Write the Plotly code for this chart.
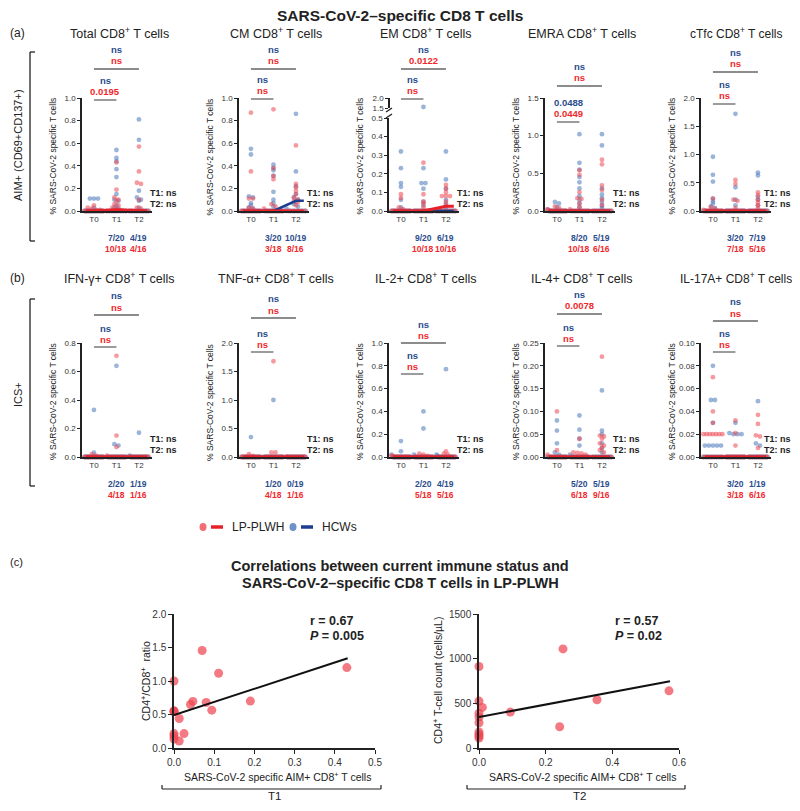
import numpy as np
import plotly.graph_objects as go

# the page body keeps an 8px margin, so the figure is 16px smaller and shifted
PAGE_W, PAGE_H = 800, 811
OFF = 8
W, H = PAGE_W - 2 * OFF, PAGE_H - 2 * OFF
FONT = "Liberation Sans, Arial, sans-serif"
RED_PT = "rgba(236,72,82,0.55)"
BLUE_PT = "rgba(72,118,186,0.55)"
RED_LN = "#E8202A"
BLUE_LN = "#1D3E8E"
RED_TX = "#F0282D"
BLUE_TX = "#2B4C8C"

timepoints = ["T0", "T1", "T2"]
n_hcw = [20, 20, 19]
n_plwh = [18, 18, 16]

# ---- (a) AIM+ : non-zero values per timepoint (the rest of each group is 0) ----
total_hcw = [[0.11, 0.11, 0.11, 0.03],
             [0.54, 0.47, 0.44, 0.37, 0.30, 0.15, 0.10, 0.09, 0.05, 0.03, 0.02],
             [0.81, 0.63, 0.18, 0.12, 0.10, 0.09, 0.03]]
total_plwh = [[0.05, 0.03, 0.02, 0.01, 0.01],
              [0.43, 0.19, 0.12, 0.10, 0.09, 0.06, 0.05, 0.03, 0.02, 0.01],
              [0.57, 0.35, 0.25, 0.24, 0.10, 0.03, 0.02]]
total_med = [[0, 0, 0], [0, 0.01, 0]]

cm_hcw = [[0.55, 0.50, 0.13, 0.12, 0.07, 0.05, 0.03, 0.02],
          [0.41, 0.38, 0.36, 0.31, 0.17, 0.10, 0.07, 0.04],
          [0.86, 0.35, 0.22, 0.15, 0.12, 0.10, 0.08, 0.06, 0.04, 0.02]]
cm_plwh = [[0.87, 0.35, 0.11, 0.11, 0.03, 0.02],
           [0.90, 0.38, 0.31, 0.28, 0.06, 0.04, 0.02],
           [0.58, 0.24, 0.21, 0.18, 0.15, 0.12, 0.10, 0.09, 0.08, 0.05]]
cm_med = [[0, 0, 0.09], [0, 0, 0]]

em_hcw = [[0.32, 0.23, 0.15, 0.13, 0.06, 0.02],
          [1.55, 0.23, 0.15, 0.15, 0.12, 0.05, 0.03],
          [0.32, 0.17, 0.12, 0.06, 0.04, 0.02]]
em_plwh = [[0.09, 0.07, 0.02, 0.01],
           [0.26, 0.09, 0.05, 0.04, 0.02],
           [0.14, 0.12, 0.10, 0.08, 0.08, 0.08, 0.05, 0.03]]
em_med = [[0, 0, 0], [0, 0, 0.025]]

emra_hcw = [[0.12, 0.10, 0.05, 0.02],
            [1.02, 0.64, 0.55, 0.45, 0.38, 0.30, 0.20, 0.15, 0.10, 0.05],
            [1.02, 0.87, 0.30, 0.22, 0.17, 0.12, 0.07, 0.04]]
emra_plwh = [[0.06, 0.04, 0.02, 0.01],
             [0.54, 0.48, 0.25, 0.17, 0.16, 0.10, 0.05, 0.02],
             [0.68, 0.62, 0.34, 0.28, 0.15, 0.08]]
emra_med = [[0, 0, 0], [0, 0.01, 0]]

ctfc_hcw = [[0.96, 0.64, 0.52, 0.22, 0.17, 0.13, 0.08, 0.05],
            [1.72, 0.42, 0.20, 0.10],
            [0.68, 0.63, 0.25, 0.20, 0.10]]
ctfc_plwh = [[0.22, 0.07, 0.04, 0.02],
             [0.55, 0.48, 0.20, 0.18, 0.05],
             [0.33, 0.28, 0.20, 0.15, 0.10, 0.05]]
ctfc_med = [[0, 0, 0], [0, 0, 0]]

# ---- (b) ICS+ ----
ifn_hcw = [[0.33, 0.03], [0.64, 0.09, 0.08], [0.17, 0.01]]
ifn_plwh = [[0.02, 0.01], [0.71, 0.15, 0.07, 0.01], [0.005]]
tnf_hcw = [[0.35], [1.0], []]
tnf_plwh = [[0.05, 0.02], [1.68, 0.08, 0.08], [0.01]]
il2_hcw = [[0.14, 0.05, 0.02], [0.40, 0.25, 0.02], [0.77, 0.02, 0.01]]
il2_plwh = [[0.01, 0.01], [0.03, 0.02, 0.01], [0.05, 0.03, 0.02]]
il4_hcw = [[0.080, 0.058, 0.030, 0.010, 0.005],
           [0.091, 0.060, 0.040, 0.025, 0.005],
           [0.146, 0.058, 0.050, 0.030, 0.020, 0.010]]
il4_plwh = [[0.100, 0.015, 0.005],
            [0.040, 0.010, 0.009, 0.008, 0.005],
            [0.220, 0.047, 0.045, 0.040, 0.030, 0.025, 0.020, 0.015, 0.010]]
il17_hcw = [[0.08, 0.05, 0.05, 0.03, 0.01, 0.01, 0.01, 0.01, 0.01],
            [0.03, 0.02, 0.02, 0.02, 0.021],
            [0.049, 0.012, 0.01]]
il17_plwh = [[0.07, 0.04, 0.03, 0.02, 0.02, 0.02, 0.02, 0.02, 0.02, 0.02],
             [0.032, 0.021, 0.01],
             [0.037, 0.029, 0.019, 0.018, 0.008]]
zero_med = [[0, 0, 0], [0, 0, 0]]

titles_a = ["Total CD8<sup>+</sup> T cells", "CM CD8<sup>+</sup> T cells", "EM CD8<sup>+</sup> T cells",
            "EMRA CD8<sup>+</sup> T cells", "cTfc CD8<sup>+</sup> T cells"]
titles_b = ["IFN-γ+ CD8<sup>+</sup> T cells", "TNF-α+ CD8<sup>+</sup> T cells", "IL-2+ CD8<sup>+</sup> T cells",
            "IL-4+ CD8<sup>+</sup> T cells", "IL-17A+ CD8<sup>+</sup> T cells"]

# p labels: (big T0-T2 blue, red), (small T0-T1 blue, red)
p_a = [(("ns", "ns"), ("ns", "0.0195")), (("ns", "ns"), ("ns", "ns")), (("ns", "0.0122"), ("ns", "ns")),
       (("ns", "ns"), ("0.0488", "0.0449")), (("ns", "ns"), ("ns", "ns"))]
p_b = [(("ns", "ns"), ("ns", "ns")), (("ns", "ns"), ("ns", "ns")), (("ns", "ns"), ("ns", "ns")),
       (("ns", "0.0078"), ("ns", "ns")), (("ns", "ns"), ("ns", "ns"))]

cnt_hcw_a = [("7/20", "4/19"), ("3/20", "10/19"), ("9/20", "6/19"), ("8/20", "5/19"), ("3/20", "7/19")]
cnt_plwh_a = [("10/18", "4/16"), ("3/18", "8/16"), ("10/18", "10/16"), ("10/18", "6/16"), ("7/18", "5/16")]
cnt_hcw_b = [("2/20", "1/19"), ("1/20", "0/19"), ("2/20", "4/19"), ("5/20", "5/19"), ("3/20", "1/19")]
cnt_plwh_b = [("4/18", "1/16"), ("4/18", "1/16"), ("5/18", "5/16"), ("6/18", "9/16"), ("3/18", "6/16")]

# ---- (c) correlations ----
t1_x = [0, 0, 0, 0, 0, 0, 0, 0.013, 0.013, 0.025, 0.041, 0.047, 0.07, 0.08, 0.094, 0.111, 0.19, 0.43]
t1_y = [1.0, 0.555, 0.55, 0.215, 0.18, 0.135, 0.54, 0.44, 0.105, 0.215, 0.65, 0.695, 1.455, 0.68, 0.565,
        1.115, 0.70, 1.2]
t1_fit_x = [0, 0.432]
t1_fit_y = [0.49, 1.34]
t2_x = [0, 0, 0, 0, 0, 0, 0, 0, 0, 0.01, 0.094, 0.242, 0.252, 0.354, 0.57]
t2_y = [912, 525, 390, 346, 283, 179, 153, 134, 112, 454, 402, 238, 1109, 540, 640]
t2_fit_x = [0, 0.573]
t2_fit_y = [346, 748]


def fx(x):
    return (x - OFF) / W


def fy(y):
    return 1 - (y - OFF) / H


fig = go.Figure()
layout = {}
ann = []
shapes = []
ax_i = [0]


def new_axes():
    ax_i[0] += 1
    i = ax_i[0]
    if i == 1:
        return "xaxis", "yaxis", "x", "y"
    return f"xaxis{i}", f"yaxis{i}", f"x{i}", f"y{i}"


def text(x, y, s, size=9, color="#222", xanchor="center", angle=0):
    ann.append(dict(x=fx(x), y=fy(y), xref="paper", yref="paper", text=s, showarrow=False,
                    font=dict(family=FONT, size=size, color=color), xanchor=xanchor, yanchor="middle",
                    textangle=angle))


def line(x0, y0, x1, y1, color="#222", width=1.2):
    shapes.append(dict(type="line", xref="paper", yref="paper", x0=fx(x0), y0=fy(y0), x1=fx(x1), y1=fy(y1),
                       line=dict(color=color, width=width)))


def swarm(vals, tol):
    vals = sorted(vals, reverse=True)
    xs, ys = [], []
    i = 0
    while i < len(vals):
        j = i
        while j + 1 < len(vals) and vals[i] - vals[j + 1] <= tol:
            j += 1
        k = j - i + 1
        w = min(0.42, 0.09 * (k - 1))
        offs = np.linspace(-w, w, k) if k > 1 else [0.0]
        xs += list(offs)
        ys += vals[i:j + 1]
        i = j + 1
    return xs, ys


XR = [-0.53, 2.58]
PW = 70


def cat_px(left, c):
    return left + (c - XR[0]) / (XR[1] - XR[0]) * PW


def axis_style(tickfmt, rng, dtick=None, tickvals=None):
    d = dict(range=rng, showline=True, linecolor="#222", linewidth=1.5, ticks="outside", ticklen=3,
             tickwidth=1.2, tickcolor="#222", tickfont=dict(family=FONT, size=8, color="#333"),
             showgrid=False, zeroline=False, tickformat=tickfmt, fixedrange=True)
    if tickvals is not None:
        d.update(tickmode="array", tickvals=tickvals)
    else:
        d.update(tickmode="linear", tick0=0, dtick=dtick)
    return d


def add_panel(left, top, bottom, title, hcw, plwh, med, ytop, dtick, fmt, pl, big_y, small_y,
              cnt_h, cnt_p, broken=False, last=False):
    xk, yk, xr, yr = new_axes()
    layout[xk] = dict(domain=[fx(left), fx(left + PW)], range=XR, anchor=yr, showline=True, linecolor="#222",
                      linewidth=1.5, ticks="", tickmode="array", tickvals=[0, 1, 2], ticktext=timepoints,
                      tickfont=dict(family=FONT, size=8, color="#333"), showgrid=False, zeroline=False,
                      fixedrange=True)
    low_top = top + 20 if broken else top
    rng = [0, 0.5] if broken else [0, ytop]
    layout[yk] = dict(domain=[fy(bottom), fy(low_top)], anchor=xr, **axis_style(fmt, rng, dtick=dtick))
    up = None
    if broken:
        xk2, yk2, xr2, yr2 = new_axes()
        layout[xk2] = dict(domain=[fx(left), fx(left + PW)], range=XR, visible=False, anchor=yr2,
                           fixedrange=True)
        layout[yk2] = dict(domain=[fy(top + 10), fy(top)], anchor="free", position=fx(left),
                           **axis_style(".1f", [1.5, 2.0], tickvals=[1.5, 2.0]))
        up = (xr2, yr2)
        # break marks
        for yb in (top + 12, top + 18):
            line(left - 3, yb + 2, left + 3, yb - 2, width=1.3)
    tol = (0.5 if broken else ytop) * 0.02
    for vals_all, n_list, col in ((hcw, n_hcw, BLUE_PT), (plwh, n_plwh, RED_PT)):
        xs, ys, xs2, ys2 = [], [], [], []
        for g in range(3):
            full = list(vals_all[g]) + [0.0] * max(0, n_list[g] - len(vals_all[g]))
            lo = [v for v in full if not (broken and v > 0.5)]
            hi = [v for v in full if broken and v > 0.5]
            ox, oy = swarm(lo, tol)
            xs += [g + o for o in ox]
            ys += oy
            if hi:
                ox, oy = swarm(hi, tol)
                xs2 += [g + o for o in ox]
                ys2 += oy
        fig.add_trace(go.Scatter(x=xs, y=ys, xaxis=xr, yaxis=yr, mode="markers", cliponaxis=False,
                                 marker=dict(size=4.8, color=col, line=dict(width=0)), showlegend=False,
                                 hoverinfo="skip"))
        if xs2:
            fig.add_trace(go.Scatter(x=xs2, y=ys2, xaxis=up[0], yaxis=up[1], mode="markers", cliponaxis=False,
                                     marker=dict(size=4.8, color=col, line=dict(width=0)), showlegend=False,
                                     hoverinfo="skip"))
    for m, col, wd in ((med[0], BLUE_LN, 2.5), (med[1], RED_LN, 3)):
        fig.add_trace(go.Scatter(x=[-0.35, 0, 1, 2, 2.35], y=[m[0], m[0], m[1], m[2], m[2]], xaxis=xr, yaxis=yr,
                                 mode="lines", line=dict(color=col, width=wd), cliponaxis=False,
                                 showlegend=False, hoverinfo="skip"))
    # titles
    if last:
        text(left + 35, top - 65, title, size=12)
    else:
        text(left + 37, top - 65, title, size=12.5)
    text(left - 29, (top + bottom) / 2 + 2, "% SARS-CoV-2 specific T cells", size=8.5, angle=-90)
    # significance brackets
    p0, p1, p2 = cat_px(left, 0), cat_px(left, 1), cat_px(left, 2)
    for (b_lab, r_lab), yb, xe in ((pl[0], big_y, p2), (pl[1], small_y, p1)):
        line(p0, yb, xe, yb, color="#666", width=1.3)
        text((p0 + xe) / 2, yb - 19, "<b>%s</b>" % b_lab, size=9.5, color=BLUE_TX)
        text((p0 + xe) / 2, yb - 8, "<b>%s</b>" % r_lab, size=9.5, color=RED_TX)
    tx = left + 61 if last else left + 66
    text(tx, bottom - 18, "<b>T1: ns</b>", size=9, xanchor="left")
    text(tx, bottom - 7, "<b>T2: ns</b>", size=9, xanchor="left")
    for k, c in enumerate((1, 2)):
        text(cat_px(left, c), bottom + 27, "<b>%s</b>" % cnt_h[k], size=8.5, color=BLUE_TX)
        text(cat_px(left, c), bottom + 38, "<b>%s</b>" % cnt_p[k], size=8.5, color=RED_TX)


lefts = [82, 239, 389, 545, 701]

panels_a = [(total_hcw, total_plwh, total_med, 1.0, 0.2, ".1f"),
            (cm_hcw, cm_plwh, cm_med, 1.0, 0.2, ".1f"),
            (em_hcw, em_plwh, em_med, 2.0, 0.1, ".1f"),
            (emra_hcw, emra_plwh, emra_med, 1.5, 0.5, ".1f"),
            (ctfc_hcw, ctfc_plwh, ctfc_med, 2.0, 0.5, ".1f")]
brk_a = [(69, 100), (69, 99), (69, 99), (86, 122), (72, 104)]
for k, (h, p, m, yt, dt, fm) in enumerate(panels_a):
    add_panel(lefts[k], 98, 211, titles_a[k], h, p, m, yt, dt, fm, p_a[k], brk_a[k][0], brk_a[k][1],
              cnt_hcw_a[k], cnt_plwh_a[k], broken=(k == 2), last=(k == 4))

panels_b = [(ifn_hcw, ifn_plwh, 0.8, 0.2, ".1f"),
            (tnf_hcw, tnf_plwh, 2.0, 0.5, ".1f"),
            (il2_hcw, il2_plwh, 1.0, 0.2, ".1f"),
            (il4_hcw, il4_plwh, 0.25, 0.05, ".2f"),
            (il17_hcw, il17_plwh, 0.10, 0.02, ".2f")]
brk_b = [(315, 347), (318, 352), (343, 374), (314, 346), (321, 352)]
for k, (h, p, yt, dt, fm) in enumerate(panels_b):
    add_panel(lefts[k], 343, 457, titles_b[k], h, p, zero_med, yt, dt, fm, p_b[k], brk_b[k][0], brk_b[k][1],
              cnt_hcw_b[k], cnt_plwh_b[k], last=(k == 4))

# row labels and brackets
text(400, 16, "<b>SARS-CoV-2–specific CD8 T cells</b>", size=15.5)
text(8, 33, "(a)", size=12, xanchor="left")
text(8, 278, "(b)", size=12, xanchor="left")
text(8, 562, "(c)", size=11, xanchor="left")
for (y0, y1, lab, yc) in ((52, 241, "AIM+ (CD69+CD137+)", 145), (299, 486, "ICS+", 395)):
    line(30, y0, 30, y1, color="#222", width=1.3)
    line(30, y0, 35, y0, color="#222", width=1.3)
    line(30, y1, 35, y1, color="#222", width=1.3)
    text(18, yc, lab, size=11, angle=-90)

# legend
for cx, pt, ln, lab in ((203, RED_PT, RED_LN, "LP-PLWH"), (293, BLUE_PT, BLUE_LN, "HCWs")):
    shapes.append(dict(type="circle", xref="paper", yref="paper", x0=fx(cx - 3.5), x1=fx(cx + 3.5),
                       y0=fy(527 + 4), y1=fy(527 - 4), fillcolor=pt.replace("0.55", "0.8"), line=dict(width=0)))
    line(cx + 8, 527, cx + 20, 527, color=ln, width=3.5)
    text(cx + 27, 527, lab, size=12, xanchor="left")

# (c) title
text(400, 566, "<b>Correlations between current immune status and</b>", size=14.5)
text(400, 583, "<b>SARS-CoV-2–specific CD8 T cells in LP-PLWH</b>", size=14.5)

CORR_PT = "rgba(238,70,82,0.72)"
for (l, r, xrng, xdt, yrng, ydt, yfmt, xs, ys, fxs, fys, ytitle, rtxt, ptxt, tlab, tx) in (
        (174, 375, [0, 0.5], 0.1, [0, 2.0], 0.5, ".1f", t1_x, t1_y, t1_fit_x, t1_fit_y,
         "CD4<sup>+</sup>/CD8<sup>+</sup>  ratio", "r = 0.67", "<i>P</i> = 0.005", "T1", 145),
        (479, 679, [0, 0.6], 0.2, [0, 1500], 500, "d", t2_x, t2_y, t2_fit_x, t2_fit_y,
         "CD4<sup>+</sup> T-cell count (cells/µL)", "r = 0.57", "<i>P</i> = 0.02", "T2", 437)):
    xk, yk, xr, yr = new_axes()
    xs_style = axis_style(".1f", xrng, dtick=xdt)
    xs_style.update(ticklen=4, tickfont=dict(family=FONT, size=10, color="#333"))
    ys_style = axis_style(yfmt, yrng, dtick=ydt)
    ys_style.update(ticklen=4, tickfont=dict(family=FONT, size=10, color="#333"))
    layout[xk] = dict(domain=[fx(l), fx(r)], anchor=yr, **xs_style)
    layout[yk] = dict(domain=[fy(748), fy(614)], anchor=xr, **ys_style)
    fig.add_trace(go.Scatter(x=xs, y=ys, xaxis=xr, yaxis=yr, mode="markers", cliponaxis=False,
                             marker=dict(size=9, color=CORR_PT, line=dict(width=0)), showlegend=False,
                             hoverinfo="skip"))
    fig.add_trace(go.Scatter(x=fxs, y=fys, xaxis=xr, yaxis=yr, mode="lines", cliponaxis=False,
                             line=dict(color="#111", width=2), showlegend=False, hoverinfo="skip"))
    text(tx, 681, ytitle, size=10.5, angle=-90)
    text((l + r) / 2 + 3, 776, "SARS-CoV-2 specific AIM+ CD8<sup>+</sup> T cells", size=10.5)
    text(l + 134, 621, "<b>%s</b>" % rtxt, size=12.5, xanchor="left")
    text(l + 134, 636, "<b>%s</b>" % ptxt, size=12.5, xanchor="left")
    line(l - 12, 789, r + 6, 789, color="#222", width=1.2)
    line(l - 12, 789, l - 12, 785, color="#222", width=1.2)
    line(r + 6, 789, r + 6, 785, color="#222", width=1.2)
    text((l + r) / 2, 796, tlab, size=11.5)

fig.update_layout(**layout)
fig.update_layout(width=W, height=H, margin=dict(l=0, r=0, t=0, b=0, autoexpand=False), plot_bgcolor="white",
                  paper_bgcolor="white", annotations=ann, shapes=shapes, showlegend=False,
                  font=dict(family=FONT))
fig.write_html("out.html")
